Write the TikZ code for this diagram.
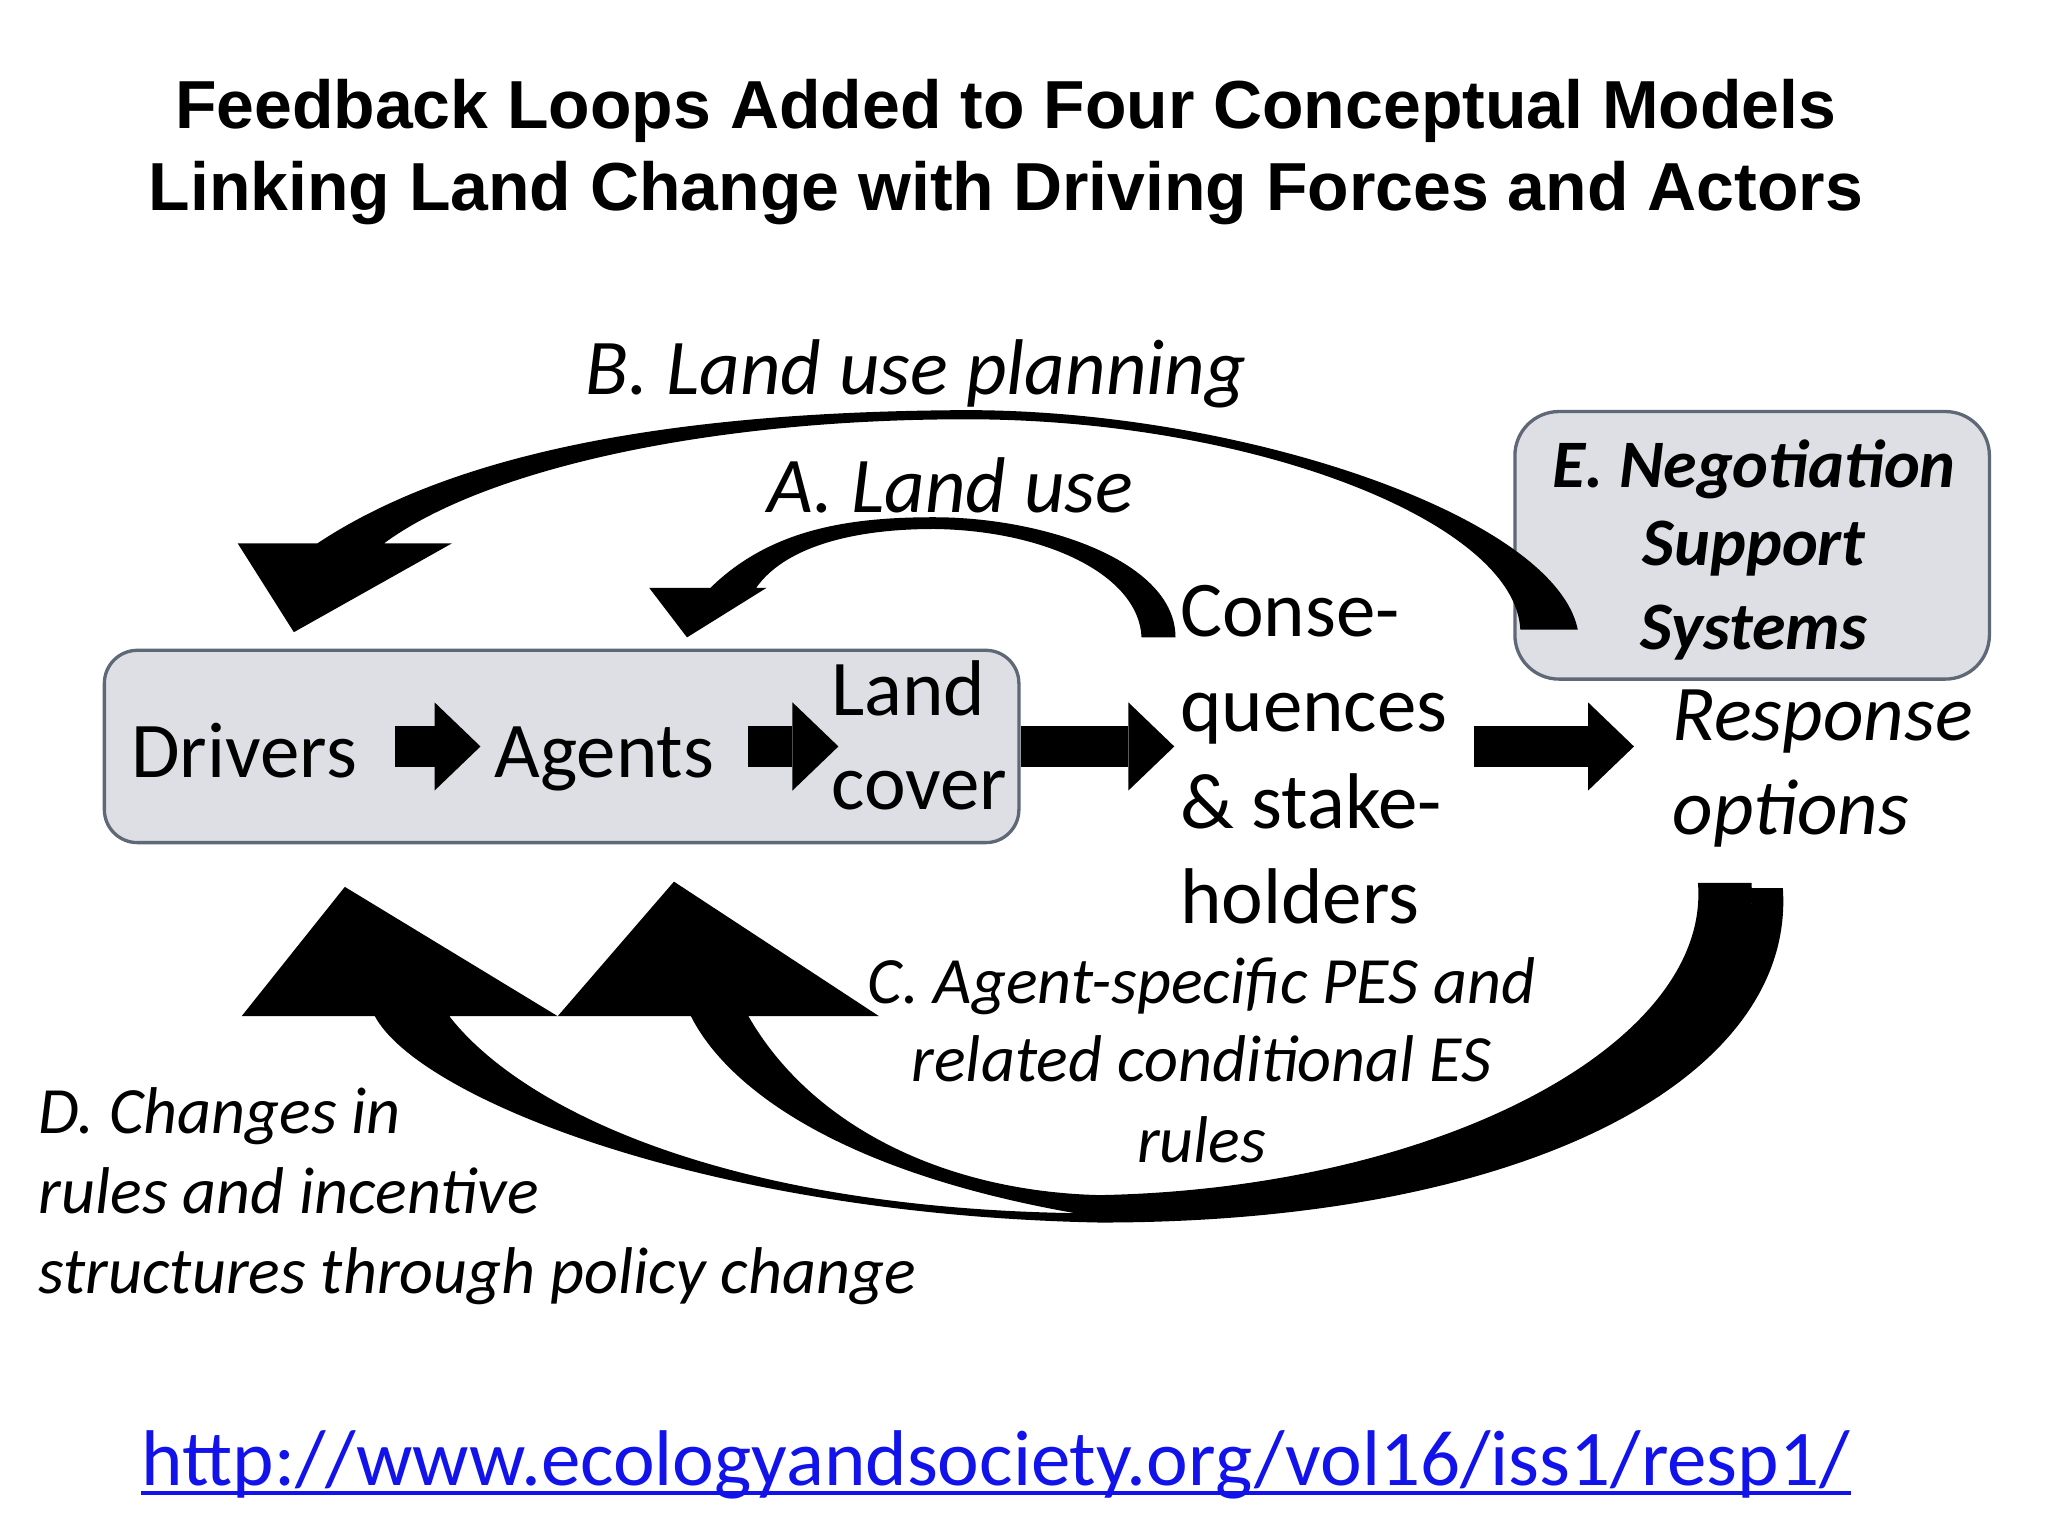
\documentclass[tikz,border=0pt]{standalone}
\usepackage{fontspec}
\setmainfont{Carlito}
\newfontfamily\headfont{Liberation Sans}
\usetikzlibrary{arrows.meta}
\definecolor{panelfill}{RGB}{221,223,228}
\definecolor{paneldraw}{RGB}{94,104,118}
\definecolor{urlblue}{RGB}{18,18,235}
\begin{document}
\begin{tikzpicture}[x=0.0125cm,y=-0.0125cm]
        \tikzstyle{headline}=[font=\headfont\bfseries\fontsize{18.5}{22}\selectfont,inner sep=0pt,anchor=base]
        \tikzstyle{stage}=[font=\fontsize{21.5}{26}\selectfont,inner sep=0pt,anchor=base west]
        \tikzstyle{looplabel}=[font=\itshape\fontsize{21.5}{26}\selectfont,inner sep=0pt,anchor=base west]
        \tikzstyle{rulelabel}=[font=\itshape\fontsize{18}{22}\selectfont,inner sep=0pt]
        \tikzstyle{nsslabel}=[font=\bfseries\itshape\fontsize{18.5}{22}\selectfont,inner sep=0pt,anchor=base]
        \tikzstyle{panel}=[draw=paneldraw,line width=0.9pt,fill=panelfill,rounded corners=9pt]
        \tikzstyle{flow}=[draw,line width=11pt,-{Triangle[length=12.5pt,width=24pt,line width=0pt]}]
        \tikzstyle{band}=[fill=black]
        \fill [white] (0,0) rectangle (1568,1176);
        \useasboundingbox (0,0) rectangle (1568,1176);
        % title
        \node [headline] (t1) at (770,98) {Feedback Loops Added to Four Conceptual Models};
        \node [headline] (t2) at (770,161) {Linking Land Change with Driving Forces and Actors};
        % boxes
        \node [panel,minimum width=87.5mm,minimum height=18.4mm] (core) at (430,571.5) {};
        \node [panel,rounded corners=12pt,minimum width=45.4mm,minimum height=25.6mm] (nss) at (1341.5,417.5) {};
        % chain
        \node [stage] (drv) at (100,595) {Drivers};
        \node [stage] (agt) at (378,595) {Agents};
        \node [stage] (land) at (636,548) {Land};
        \node [stage] (cover) at (636,620) {cover};
        \foreach \txt/\y [count=\i] in {Conse-/487,quences/560,\& stake-/634,holders/707}
           \node [stage] (cq\i) at (903,\y) {\txt};
        \node [looplabel] (resp) at (1280,567) {Response};
        \node [looplabel] (opt) at (1280,639) {options};
        \node [nsslabel] (neg) at (1343,373) {E. Negotiation};
        \node [nsslabel] (sup) at (1343,433) {Support};
        \node [nsslabel] (sys) at (1343,497) {Systems};
        % loop labels
        \node [looplabel] (labB) at (448,302) {B. Land use planning};
        \node [looplabel] (labA) at (587,392) {A. Land use};
        \foreach \txt/\y [count=\i] in {C. Agent-specific PES and/768,related conditional ES/828,rules/890}
           \node [rulelabel,anchor=base] (labC\i) at (920,\y) {\txt};
        \foreach \txt/\y [count=\i] in {D. Changes in/868,rules and incentive/929,structures through policy change/990}
           \node [rulelabel,anchor=base west] (labD\i) at (29,\y) {\txt};
        % straight arrows
        \path [flow,shorten <=10.3pt,shorten >=3.6pt] (drv.east |- core) -- (agt.west |- core);
        \path [flow,shorten <=8.9pt,shorten >=-2.1pt] (agt.east |- core) -- (land.west |- core);
        \path [flow,shorten >=1.4pt] (core.east) -- (cq2.west |- core);
        \path [flow,shorten <=7pt,shorten >=10.3pt] (cq2.east |- core) -- (resp.west |- core);
        % feedback loops
        \coordinate (tipA) at (526,488);
        \coordinate (tipB) at (225,484);
        \coordinate (tipC) at (516,675);
        \coordinate (tipD) at (264,679);
        \path [band] (497,450) -- (544,450) .. controls (590,405) and (650,396) .. (715,396)
           .. controls (800,396) and (900,430) .. (900,488) -- (874,488)
           .. controls (872,440) and (800,406) .. (715,405)
           .. controls (650,405) and (600,420) .. (579,450) -- (587,450) -- (tipA) -- cycle;
        \path [band] (182,416) -- (243,416) .. controls (350,345) and (520,315) .. (740,314)
           .. controls (950,314) and (1190,395) .. (1208,482) -- (1164,482)
           .. controls (1160,400) and (960,321) .. (740,321)
           .. controls (540,321) and (370,360) .. (294,416) -- (346,416) -- (tipB) -- cycle;
        \path [band] (427,778) -- (529,778) .. controls (555,830) and (640,900) .. (842,932)
           .. controls (1150,932) and (1350,825) .. (1341,676) -- (1300,676)
           .. controls (1310,800) and (1100,910) .. (842,915)
           .. controls (720,912) and (620,860) .. (573,778) -- (673,778) -- (tipC) -- cycle;
        \path [band] (185,778) -- (287,778) .. controls (320,840) and (540,930) .. (842,936)
           .. controls (1170,936) and (1375,825) .. (1365,680) -- (1341,680)
           .. controls (1345,810) and (1150,928) .. (842,929)
           .. controls (560,928) and (400,850) .. (344,778) -- (427,778) -- (tipD) -- cycle;
        % link
        \node [stage,text=urlblue] (url) at (108,1137) {http://www.ecologyandsociety.org/vol16/iss1/resp1/};
        \draw [urlblue,line width=1pt] ([yshift=-2.2pt]url.base west) -- ([yshift=-2.2pt]url.base east);
\end{tikzpicture}
\end{document}
